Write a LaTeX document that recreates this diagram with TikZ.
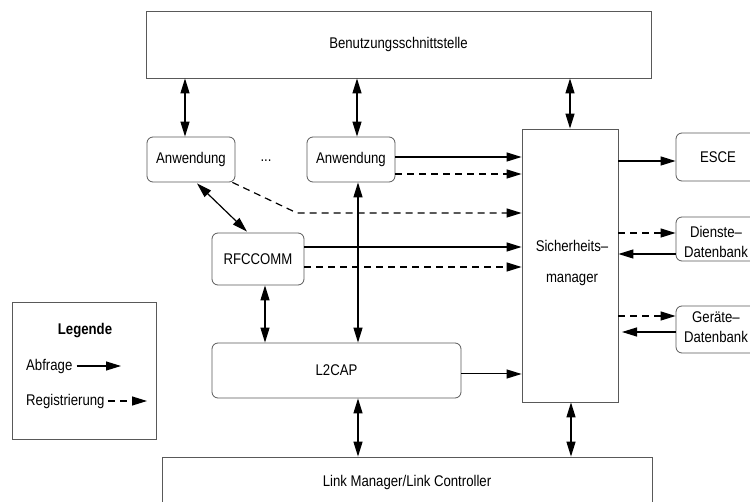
\documentclass[tikz,border=0pt]{standalone}
\usepackage{fontspec}
\setmainfont{Liberation Sans}[FakeStretch=0.85]
\usetikzlibrary{arrows.meta,calc}
\begin{document}
\begin{tikzpicture}[x=1pt,y=-1pt,
  font=\fontsize{15.5}{18}\selectfont,
  plainbox/.style={draw=black!65,line width=0.8pt,inner sep=0pt},
  roundbox/.style={plainbox,rounded corners=6pt},
  tip/.style={-{Triangle[length=15pt,width=9pt]}},
  dtip/.style={{Triangle[length=15pt,width=9pt]}-{Triangle[length=15pt,width=9pt]}},
  conn/.style={line width=1.2pt},
  regline/.style={conn,dash pattern=on 7pt off 5pt},
  lbl/.style={inner sep=0pt,anchor=center}]
\useasboundingbox (0,0) rectangle (750,502);

% Layer boxes
\node[plainbox,minimum width=505pt,minimum height=67pt] (top) at (398.5,44.5) {Benutzungsschnittstelle};
\node[roundbox,minimum width=88pt,minimum height=45pt] (anw1) at (191,159.5) {Anwendung};
\node[lbl] (dots) at (266,161) {...};
\node[roundbox,minimum width=88pt,minimum height=45pt] (anw2) at (351,159.5) {Anwendung};
\node[roundbox,minimum width=92pt,minimum height=52pt] (rfc) at (258,259) {RFCCOMM};
\node[roundbox,minimum width=249pt,minimum height=55pt] (l2cap) at (336.5,370.5) {L2CAP};
\node[plainbox,minimum width=96pt,minimum height=273pt] (sm) at (570,265.5) {};
\node[lbl] (smA) at (572,246) {Sicherheits\char"2013};
\node[lbl] (smB) at (572,280) {manager};
\node[plainbox,minimum width=490pt,minimum height=50pt] (lm) at (407,482) {Link Manager/Link Controller};

% Databases and ESCE on the right
\node[roundbox,minimum width=84pt,minimum height=48pt] (esce) at (718,157) {ESCE};
\node[roundbox,minimum width=84pt,minimum height=44pt] (dienst) at (718,239) {};
\node[lbl] (dienstA) at (716,232) {Dienste\char"2013};
\node[lbl] (dienstB) at (716,252) {Datenbank};
\node[roundbox,minimum width=84pt,minimum height=47pt] (geraet) at (718,329.5) {};
\node[lbl] (geraetA) at (716,317) {Geräte\char"2013};
\node[lbl] (geraetB) at (716,337) {Datenbank};

% Legend
\node[plainbox,minimum width=144pt,minimum height=137pt] (leg) at (84,370.5) {};
\node[lbl,font=\fontsize{15.5}{18}\selectfont\bfseries] (legT) at (85,331) {Legende};
\node[lbl,anchor=west] (legA) at (26,366) {Abfrage};
\node[lbl,anchor=west] (legR) at (26,401) {Registrierung};
\coordinate (legAe) at (121,366);
\coordinate (legRe) at (147,401);
\draw[conn,tip] ([xshift=4pt]legA.east) -- (legAe);
\draw[regline,tip] ([xshift=3pt]legR.east) -- (legRe);

% Connections to the user interface
\draw[conn,dtip] (top.south -| 185,0) -- (anw1.north -| 185,0);
\draw[conn,dtip] (top.south -| 357,0) -- (anw2.north -| 357,0);
\draw[conn,dtip] (top.south -| sm.north) -- (sm.north);

% Application -> security manager
\draw[conn,tip] (anw2.east |- 0,157) -- (sm.west |- 0,157);
\draw[regline,tip] (anw2.east |- 0,174) -- (sm.west |- 0,174);
\coordinate (bend) at (297,213);
\draw[regline,tip] (anw1.south east) ++(-3,0) -- (bend) -- (sm.west |- bend);
\draw[conn,dtip] (anw1.south) ++(6,1) -- ($(rfc.north)+(-11,-1)$);

% RFCOMM -> security manager
\draw[conn,tip] (rfc.east |- 0,247) -- (sm.west |- 0,247);
\draw[regline,tip] (rfc.east |- 0,267) -- (sm.west |- 0,267);

% Vertical links
\draw[conn,dtip] (anw2.south -| 358,0) -- (l2cap.north -| 358,0);
\draw[conn,dtip] (rfc.south -| 265,0) -- (l2cap.north -| 265,0);
\draw[conn,dtip] (l2cap.south -| 358,0) -- (lm.north -| 358,0);
\draw[conn,dtip] (sm.south -| 571,0) -- (lm.north -| 571,0);
\draw[line width=1pt,tip] (l2cap.east |- 0,374) -- (sm.west |- 0,374);

% Security manager <-> databases
\draw[conn,tip] (sm.east |- esce.east) ++(0,4) -- (esce.west |- 0,161);
\draw[regline,tip] (sm.east |- 0,233) -- (dienst.west |- 0,233);
\draw[conn,tip] (dienst.west |- 0,254) -- (sm.east |- 0,254);
\draw[regline,tip] (sm.east |- 0,316) -- (geraet.west |- 0,316);
\coordinate (gtip) at (622,332);
\draw[conn,tip] (geraet.west |- gtip) -- (gtip);
\end{tikzpicture}
\end{document}
